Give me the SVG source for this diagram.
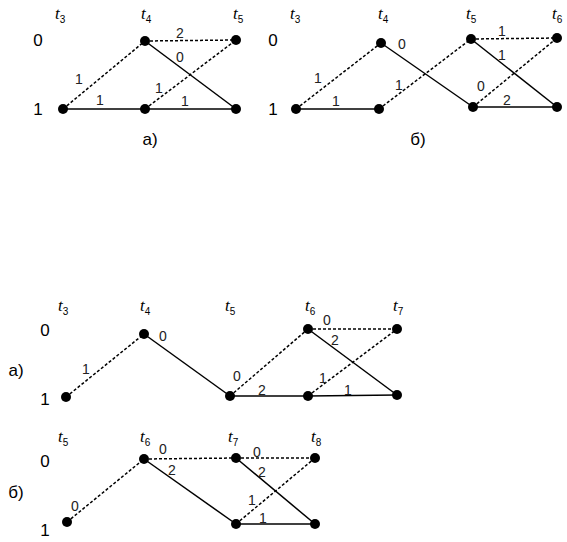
<svg xmlns="http://www.w3.org/2000/svg" width="567" height="542" viewBox="0 0 567 542">
<style>
.s{stroke:#000;stroke-width:1.5;fill:none}
.d{stroke:#000;stroke-width:1.5;fill:none;stroke-dasharray:3 2}
.n{fill:#000}
.row{font-family:"Liberation Sans",Arial,sans-serif;font-size:17px;fill:#000;text-anchor:middle;dominant-baseline:central}
.lab{font-family:"Liberation Sans",Arial,sans-serif;font-size:14px;fill:#222;text-anchor:middle;dominant-baseline:central}
.t{font-family:"Liberation Serif","Times New Roman",serif;font-style:italic;font-size:17px;fill:#000}
.sub{font-style:normal;font-family:"Liberation Sans",Arial,sans-serif;font-size:10px}
</style>
<rect width="567" height="542" fill="#fff"/>
<g id="connectors">
<line class="d" x1="63" y1="109" x2="145" y2="41"/>
<line class="s" x1="63" y1="109" x2="236" y2="109"/>
<line class="d" x1="145" y1="109" x2="236" y2="40"/>
<line class="d" x1="145" y1="41" x2="236" y2="40"/>
<line class="s" x1="145" y1="41" x2="236" y2="109"/>
<line class="d" x1="296" y1="109" x2="381" y2="43"/>
<line class="s" x1="296" y1="109" x2="379" y2="109"/>
<line class="s" x1="381" y1="43" x2="473" y2="107"/>
<line class="d" x1="379" y1="109" x2="471" y2="39"/>
<line class="d" x1="471" y1="39" x2="557" y2="38"/>
<line class="s" x1="471" y1="39" x2="557" y2="107"/>
<line class="d" x1="473" y1="107" x2="557" y2="38"/>
<line class="s" x1="473" y1="107" x2="557" y2="107"/>
<line class="d" x1="66" y1="397" x2="144" y2="334"/>
<line class="s" x1="144" y1="334" x2="230" y2="396"/>
<line class="d" x1="230" y1="396" x2="308" y2="329"/>
<line class="s" x1="230" y1="396" x2="308" y2="396"/>
<line class="d" x1="308" y1="329" x2="397" y2="329"/>
<line class="s" x1="308" y1="329" x2="397" y2="395"/>
<line class="d" x1="308" y1="396" x2="397" y2="329"/>
<line class="s" x1="308" y1="396" x2="397" y2="395"/>
<line class="d" x1="67" y1="522" x2="144" y2="459"/>
<line class="d" x1="144" y1="459" x2="236" y2="458"/>
<line class="s" x1="144" y1="459" x2="236" y2="524"/>
<line class="d" x1="236" y1="458" x2="315" y2="458"/>
<line class="s" x1="236" y1="458" x2="315" y2="524"/>
<line class="d" x1="236" y1="524" x2="315" y2="458"/>
<line class="s" x1="236" y1="524" x2="315" y2="524"/>
</g>
<g id="edge-labels">
<text class="lab" x="180" y="33">2</text>
<text class="lab" x="180" y="57">0</text>
<text class="lab" x="79" y="79">1</text>
<text class="lab" x="100" y="100">1</text>
<text class="lab" x="159" y="88">1</text>
<text class="lab" x="185" y="101">1</text>
<text class="lab" x="318" y="78">1</text>
<text class="lab" x="336" y="101">1</text>
<text class="lab" x="402" y="44">0</text>
<text class="lab" x="399" y="85">1</text>
<text class="lab" x="502" y="31">1</text>
<text class="lab" x="502" y="55">1</text>
<text class="lab" x="481" y="86">0</text>
<text class="lab" x="507" y="100">2</text>
<text class="lab" x="86" y="369">1</text>
<text class="lab" x="163" y="336">0</text>
<text class="lab" x="237" y="376">0</text>
<text class="lab" x="262" y="390">2</text>
<text class="lab" x="327" y="320">0</text>
<text class="lab" x="335" y="340">2</text>
<text class="lab" x="323" y="378">1</text>
<text class="lab" x="348" y="390">1</text>
<text class="lab" x="75" y="506">0</text>
<text class="lab" x="163" y="449">0</text>
<text class="lab" x="172" y="470">2</text>
<text class="lab" x="257" y="452">0</text>
<text class="lab" x="262" y="472">2</text>
<text class="lab" x="252" y="500">1</text>
<text class="lab" x="263" y="518">1</text>
</g>
<g id="headers">
<text class="t" x="55" y="19">t<tspan class="sub" dy="4">3</tspan></text>
<text class="t" x="141" y="19">t<tspan class="sub" dy="4">4</tspan></text>
<text class="t" x="233" y="19">t<tspan class="sub" dy="4">5</tspan></text>
<text class="row" x="38" y="40">0</text>
<text class="row" x="38" y="109">1</text>
<text class="row" x="150" y="139">а)</text>
<text class="t" x="290" y="19">t<tspan class="sub" dy="4">3</tspan></text>
<text class="t" x="378" y="19">t<tspan class="sub" dy="4">4</tspan></text>
<text class="t" x="466" y="19">t<tspan class="sub" dy="4">5</tspan></text>
<text class="t" x="552" y="19">t<tspan class="sub" dy="4">6</tspan></text>
<text class="row" x="273" y="40">0</text>
<text class="row" x="273" y="109">1</text>
<text class="row" x="418" y="139">б)</text>
<text class="t" x="58" y="311">t<tspan class="sub" dy="4">3</tspan></text>
<text class="t" x="140" y="311">t<tspan class="sub" dy="4">4</tspan></text>
<text class="t" x="225" y="311">t<tspan class="sub" dy="4">5</tspan></text>
<text class="t" x="305" y="311">t<tspan class="sub" dy="4">6</tspan></text>
<text class="t" x="393" y="311">t<tspan class="sub" dy="4">7</tspan></text>
<text class="row" x="45" y="330">0</text>
<text class="row" x="45" y="399">1</text>
<text class="row" x="16" y="370">а)</text>
<text class="t" x="58" y="442">t<tspan class="sub" dy="4">5</tspan></text>
<text class="t" x="140" y="442">t<tspan class="sub" dy="4">6</tspan></text>
<text class="t" x="228" y="442">t<tspan class="sub" dy="4">7</tspan></text>
<text class="t" x="311" y="442">t<tspan class="sub" dy="4">8</tspan></text>
<text class="row" x="45" y="461">0</text>
<text class="row" x="45" y="530">1</text>
<text class="row" x="16" y="492">б)</text>
</g>
<g id="nodes">
<g id="n1-3-1"><circle class="n" cx="63" cy="109" r="5"/></g>
<g id="n1-4-0"><circle class="n" cx="145" cy="41" r="5"/></g>
<g id="n1-4-1"><circle class="n" cx="145" cy="109" r="5"/></g>
<g id="n1-5-0"><circle class="n" cx="236" cy="40" r="5"/></g>
<g id="n1-5-1"><circle class="n" cx="236" cy="109" r="5"/></g>
<g id="n2-3-1"><circle class="n" cx="296" cy="109" r="5"/></g>
<g id="n2-4-0"><circle class="n" cx="381" cy="43" r="5"/></g>
<g id="n2-4-1"><circle class="n" cx="379" cy="109" r="5"/></g>
<g id="n2-5-0"><circle class="n" cx="471" cy="39" r="5"/></g>
<g id="n2-5-1"><circle class="n" cx="473" cy="107" r="5"/></g>
<g id="n2-6-0"><circle class="n" cx="557" cy="38" r="5"/></g>
<g id="n2-6-1"><circle class="n" cx="557" cy="107" r="5"/></g>
<g id="n3-3-1"><circle class="n" cx="66" cy="397" r="5"/></g>
<g id="n3-4-0"><circle class="n" cx="144" cy="334" r="5"/></g>
<g id="n3-5-1"><circle class="n" cx="230" cy="396" r="5"/></g>
<g id="n3-6-0"><circle class="n" cx="308" cy="329" r="5"/></g>
<g id="n3-6-1"><circle class="n" cx="308" cy="396" r="5"/></g>
<g id="n3-7-0"><circle class="n" cx="397" cy="329" r="5"/></g>
<g id="n3-7-1"><circle class="n" cx="397" cy="395" r="5"/></g>
<g id="n4-5-1"><circle class="n" cx="67" cy="522" r="5"/></g>
<g id="n4-6-0"><circle class="n" cx="144" cy="459" r="5"/></g>
<g id="n4-7-0"><circle class="n" cx="236" cy="458" r="5"/></g>
<g id="n4-7-1"><circle class="n" cx="236" cy="524" r="5"/></g>
<g id="n4-8-0"><circle class="n" cx="315" cy="458" r="5"/></g>
<g id="n4-8-1"><circle class="n" cx="315" cy="524" r="5"/></g>
</g>
</svg>
